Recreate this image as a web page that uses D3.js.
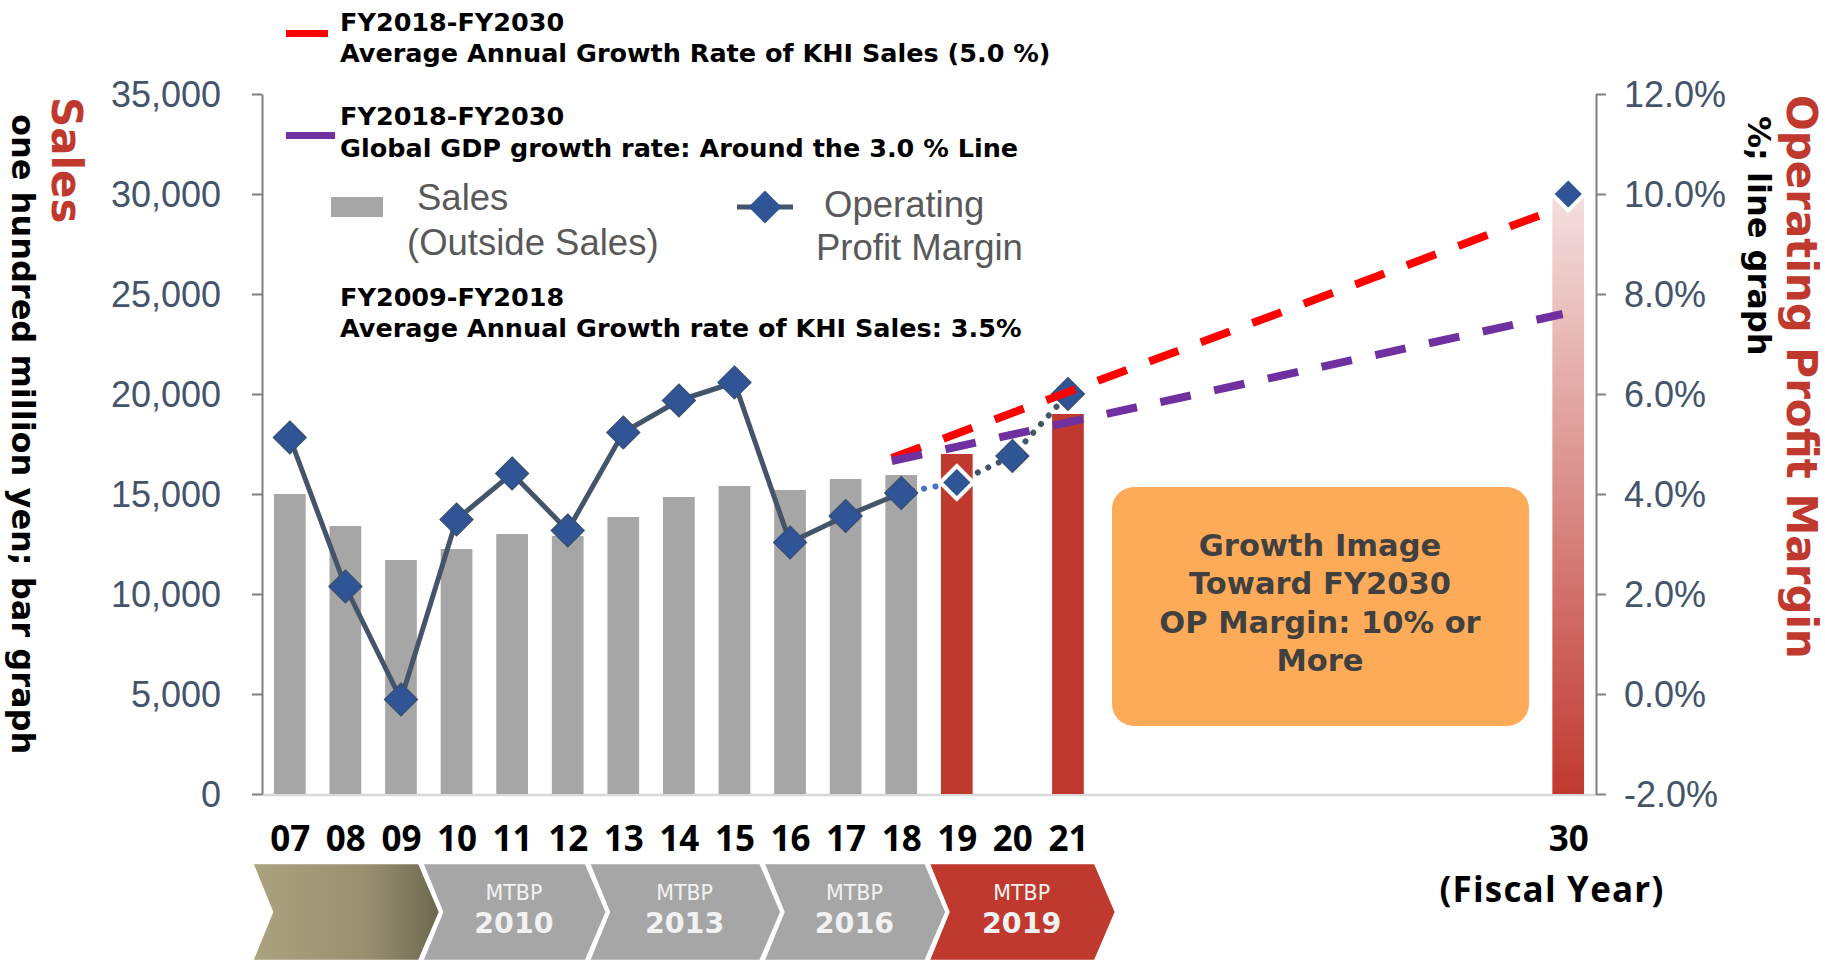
<!DOCTYPE html>
<html><head><meta charset="utf-8">
<script src="https://cdn.jsdelivr.net/npm/d3@7"></script>
<style>body{margin:0;background:#fff}svg{display:block}</style>
</head><body>
<svg id="chart" width="1825" height="960"></svg>
<script>
// ---------- DATA ----------
const actualYears = [7, 8, 9, 10, 11, 12, 13, 14, 15, 16, 17, 18];
const actualSales = [15000, 13400, 11700, 12250, 13000, 12900, 13850, 14850, 15400, 15200, 15750, 15950];
const planYears = [19, 21];
const planSales = [17000, 19000];
const targetYears = [30];
const targetSales = [30000];

const marginYears = [7, 8, 9, 10, 11, 12, 13, 14, 15, 16, 17, 18, 19, 20, 21];
const marginValues = [5.13, 2.15, -0.11, 3.49, 4.41, 3.27, 5.23, 5.87, 6.23, 3.03, 3.56, 4.02, 4.23, 4.76, 6.0];
const targetMarginYears = [30];
const targetMarginValues = [10.0];

const redGrowthYears = [17.83, 29.7];
const redGrowthSales = [16800, 29150];
const purpleGrowthYears = [17.83, 29.9];
const purpleGrowthSales = [16650, 24000];

const xTickYears = [7, 8, 9, 10, 11, 12, 13, 14, 15, 16, 17, 18, 19, 20, 21, 30];
const xTickLabels = ["07","08","09","10","11","12","13","14","15","16","17","18","19","20","21","30"];
const leftTicks = [0, 5000, 10000, 15000, 20000, 25000, 30000, 35000];
const rightTicks = [-2, 0, 2, 4, 6, 8, 10, 12];

const mtbpBounds = [6.32, 9.38, 12.38, 15.52, 18.49, 21.54];
const mtbpLabels = ["", "2010", "2013", "2016", "2019"];

// ---------- SETUP ----------
const svg = d3.select("#chart");
const x = d3.scaleLinear().domain([6.5, 30.5]).range([262, 1596]);
const yL = d3.scaleLinear().domain([0, 35000]).range([794, 94]);
const yR = d3.scaleLinear().domain([-2, 12]).range([794, 94]);
const barW = 31.7;

const defs = svg.append("defs");
const g30 = defs.append("linearGradient").attr("id", "g30").attr("x1", 0).attr("y1", 0).attr("x2", 0).attr("y2", 1);
g30.append("stop").attr("offset", "0%").attr("stop-color", "#F5E0DF");
g30.append("stop").attr("offset", "100%").attr("stop-color", "#C0392F");
const gGold = defs.append("linearGradient").attr("id", "gGold").attr("x1", 0).attr("y1", 0).attr("x2", 1).attr("y2", 0);
gGold.append("stop").attr("offset", "0%").attr("stop-color", "#ACA27F");
gGold.append("stop").attr("offset", "60%").attr("stop-color", "#999070");
gGold.append("stop").attr("offset", "100%").attr("stop-color", "#6C6850");

// x baseline
svg.append("line").attr("x1", x(6.5)).attr("x2", x(30.5)).attr("y1", yL(0) + 1).attr("y2", yL(0) + 1)
  .attr("stroke", "#D9D9D9").attr("stroke-width", 2.5);

// ---------- BARS ----------
svg.append("g").selectAll("rect").data(actualYears).join("rect")
  .attr("x", d => x(d) - barW / 2).attr("width", barW)
  .attr("y", (d, i) => yL(actualSales[i])).attr("height", (d, i) => yL(0) - yL(actualSales[i]))
  .attr("fill", "#A6A6A6");
svg.append("g").selectAll("rect").data(planYears).join("rect")
  .attr("x", d => x(d) - barW / 2).attr("width", barW)
  .attr("y", (d, i) => yL(planSales[i])).attr("height", (d, i) => yL(0) - yL(planSales[i]))
  .attr("fill", "#C0392F");
svg.append("g").selectAll("rect").data(targetYears).join("rect")
  .attr("x", d => x(d) - barW / 2).attr("width", barW)
  .attr("y", (d, i) => yL(targetSales[i])).attr("height", (d, i) => yL(0) - yL(targetSales[i]))
  .attr("fill", "url(#g30)");

// ---------- AXES ----------
const axL = svg.append("g").attr("transform", `translate(${x(6.5)},0)`)
  .call(d3.axisLeft(yL).tickValues(leftTicks).tickSize(10).tickSizeOuter(0).tickPadding(31).tickFormat(d3.format(",")));
const axR = svg.append("g").attr("transform", `translate(${x(30.5)},0)`)
  .call(d3.axisRight(yR).tickValues(rightTicks).tickSize(10).tickSizeOuter(0).tickPadding(18).tickFormat(d => d.toFixed(1) + "%"));
[axL, axR].forEach(a => {
  a.select(".domain").attr("stroke", "#7F7F7F").attr("stroke-width", 2);
  a.selectAll(".tick line").attr("stroke", "#7F7F7F").attr("stroke-width", 2);
  a.selectAll(".tick text").attr("fill", "#44546A").attr("font-family", "'Liberation Sans', Arial, sans-serif")
    .attr("font-size", 36).attr("dy", "0.36em");
});

const axB = svg.append("g").attr("transform", `translate(0,${yL(0)})`)
  .call(d3.axisBottom(x).tickValues(xTickYears).tickSize(0).tickPadding(32).tickFormat((d, i) => xTickLabels[i]));
axB.select(".domain").remove();
axB.selectAll(".tick text").attr("fill", "#000").attr("font-family", "'Open Sans', sans-serif")
  .attr("font-weight", "bold").attr("font-size", 35);

svg.append("text").attr("x", 1552).attr("y", 902).attr("text-anchor", "middle")
  .attr("font-family", "'Open Sans', sans-serif").attr("font-weight", "bold").attr("font-size", 35)
  .attr("letter-spacing", 1.2).text("(Fiscal Year)");

// ---------- ORANGE BOX ----------
svg.append("rect").attr("x", 1112).attr("y", 487).attr("width", 417).attr("height", 239).attr("rx", 22)
  .attr("fill", "#FDAB58");
const boxLines = ["Growth Image", "Toward FY2030", "OP Margin: 10% or", "More"];
svg.append("g").selectAll("text").data(boxLines).join("text")
  .attr("x", 1320).attr("y", (d, i) => 556 + i * 38.4).attr("text-anchor", "middle")
  .attr("font-family", "'DejaVu Sans', sans-serif").attr("font-weight", "bold").attr("font-size", 30.5)
  .attr("fill", "#404040").text(d => d);

// ---------- MARGIN LINE ----------
const mPts = marginYears.map((yr, i) => [x(yr), yR(marginValues[i])]);
const line = d3.line();
svg.append("path").attr("d", line(mPts.slice(0, 12))).attr("fill", "none")
  .attr("stroke", "#44546A").attr("stroke-width", 5).attr("stroke-linejoin", "round");
svg.append("path").attr("d", line(mPts.slice(11, 13))).attr("fill", "none")
  .attr("stroke", "#4472C4").attr("stroke-width", 6).attr("stroke-linecap", "round").attr("stroke-dasharray", "0.1 11.5");
svg.append("path").attr("d", line(mPts.slice(12, 15))).attr("fill", "none")
  .attr("stroke", "#44546A").attr("stroke-width", 6).attr("stroke-linecap", "round").attr("stroke-dasharray", "0.1 11.5");

const diamond = "M0,-16.5L16.5,0L0,16.5L-16.5,0Z";
svg.append("g").selectAll("path").data(mPts).join("path")
  .attr("d", diamond).attr("transform", d => `translate(${d[0]},${d[1]})`)
  .attr("fill", "#2F5597")
  .attr("stroke", (d, i) => i === 12 ? "#fff" : "#3A4E6E")
  .attr("stroke-width", (d, i) => i === 12 ? 4 : 1.2);
svg.append("g").selectAll("path").data(targetMarginYears).join("path")
  .attr("d", diamond).attr("transform", (d, i) => `translate(${x(d)},${yR(targetMarginValues[i])})`)
  .attr("fill", "#2F5597").attr("stroke", "#fff").attr("stroke-width", 4);

// ---------- GROWTH LINES ----------
svg.append("path").attr("d", line(redGrowthYears.map((yr, i) => [x(yr), yL(redGrowthSales[i])])))
  .attr("fill", "none").attr("stroke", "#FF0000").attr("stroke-width", 8).attr("stroke-dasharray", "31 24");
svg.append("path").attr("d", line(purpleGrowthYears.map((yr, i) => [x(yr), yL(purpleGrowthSales[i])])))
  .attr("fill", "none").attr("stroke", "#7030A0").attr("stroke-width", 8).attr("stroke-dasharray", "31 24");

// ---------- LEGEND / ANNOTATIONS ----------
svg.append("rect").attr("x", 286).attr("y", 30).attr("width", 42).attr("height", 7).attr("fill", "#FF0000");
svg.append("rect").attr("x", 286).attr("y", 132).attr("width", 49).attr("height", 7).attr("fill", "#7030A0");
const notes = [
  ["FY2018-FY2030", 31], ["Average Annual Growth Rate of KHI Sales (5.0 %)", 62],
  ["FY2018-FY2030", 125], ["Global GDP growth rate: Around the 3.0 % Line", 157],
  ["FY2009-FY2018", 306], ["Average Annual Growth rate of KHI Sales: 3.5%", 337]
];
svg.append("g").selectAll("text").data(notes).join("text")
  .attr("x", 340).attr("y", d => d[1]).attr("font-family", "'DejaVu Sans', sans-serif")
  .attr("font-weight", "bold").attr("font-size", 25.5).attr("fill", "#000").text(d => d[0]);

svg.append("rect").attr("x", 331).attr("y", 197).attr("width", 52).attr("height", 20).attr("fill", "#A6A6A6");
svg.append("line").attr("x1", 737).attr("x2", 793).attr("y1", 207).attr("y2", 207).attr("stroke", "#44546A").attr("stroke-width", 5);
svg.append("path").attr("d", diamond).attr("transform", "translate(765,207)").attr("fill", "#2F5597");
const legTexts = [["Sales", 417, 210], ["(Outside Sales)", 407, 255], ["Operating", 824, 217], ["Profit Margin", 816, 260]];
svg.append("g").selectAll("text").data(legTexts).join("text")
  .attr("x", d => d[1]).attr("y", d => d[2]).attr("font-family", "'Liberation Sans', Arial, sans-serif")
  .attr("font-size", 36.5).attr("fill", "#595959").text(d => d[0]);

// axis titles (rotated)
function vtext(tx, ty, str, size, color) {
  svg.append("text").attr("transform", `translate(${tx},${ty}) rotate(90)`)
    .attr("font-family", "'DejaVu Sans', sans-serif").attr("font-weight", "bold")
    .attr("font-size", size).attr("fill", color).text(str);
}
vtext(52, 97, "Sales", 42, "#C0392F");
vtext(12, 114, "one hundred million yen; bar graph", 32, "#000");
vtext(1787, 95, "Operating Profit Margin", 42, "#C0392F");
vtext(1748, 116, "%; line graph", 32, "#000");

// ---------- MTBP CHEVRONS ----------
const cTop = 863, cMid = 912, cBot = 961;
const chevColors = ["url(#gGold)", "#A6A6A6", "#A6A6A6", "#A6A6A6", "#C0392F"];
const chev = svg.append("g");
mtbpLabels.forEach((lab, i) => {
  const x0 = x(mtbpBounds[i]), x1 = x(mtbpBounds[i + 1]) - 3;
  const pts = [[x0, cTop], [x1, cTop], [x1 + 21, cMid], [x1, cBot], [x0, cBot], [x0 + 20, cMid]];
  chev.append("path").attr("d", line(pts) + "Z").attr("fill", chevColors[i]).attr("stroke", "#fff").attr("stroke-width", 2.5);
  if (lab) {
    const cx = (x0 + x1) / 2 + 10;
    chev.append("text").attr("x", cx).attr("y", 900).attr("text-anchor", "middle")
      .attr("font-family", "'DejaVu Sans', sans-serif").attr("font-size", 20.6).attr("fill", "#F2F2F2").text("MTBP");
    chev.append("text").attr("x", cx).attr("y", 933).attr("text-anchor", "middle")
      .attr("font-family", "'DejaVu Sans', sans-serif").attr("font-weight", "bold").attr("font-size", 28.5).attr("fill", "#F2F2F2").text(lab);
  }
});
</script>
</body></html>
